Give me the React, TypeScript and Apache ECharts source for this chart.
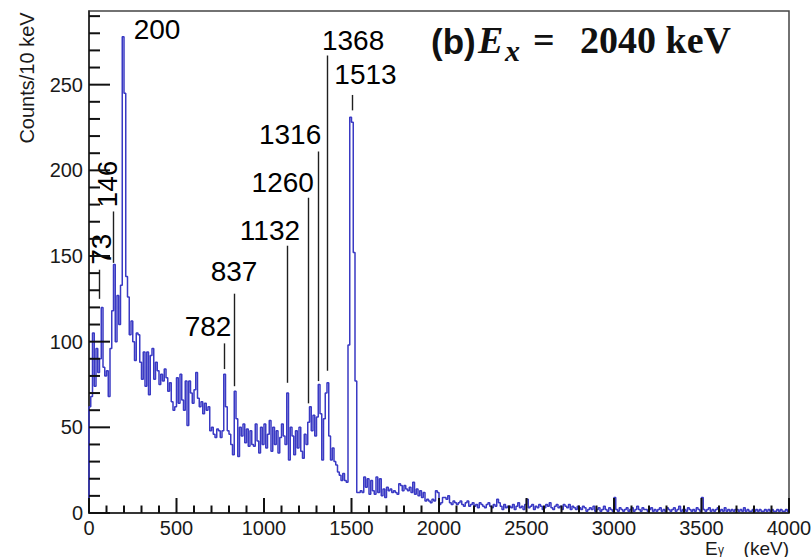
import React, { useEffect, useRef } from "react";
import * as echarts from "echarts";

// Histogram: counts per 10 keV bin, bins start at 0 keV
const BIN_WIDTH = 10;
const counts: number[] = [
  62, 68, 105, 74, 96, 82, 90, 120, 85, 80,
  83, 68, 96, 118, 145, 100, 127, 110, 133, 278,
  245, 138, 126, 104, 112, 100, 89, 105, 104, 88,
  78, 94, 74, 94, 69, 92, 96, 78, 88, 83,
  75, 81, 77, 84, 79, 71, 76, 65, 60, 62,
  79, 64, 81, 66, 60, 77, 51, 77, 70, 64,
  72, 82, 67, 62, 65, 58, 64, 60, 62, 48,
  50, 46, 44, 49, 48, 44, 48, 81, 62, 48,
  46, 40, 34, 71, 55, 33, 50, 45, 52, 41,
  49, 39, 48, 40, 39, 52, 42, 35, 50, 40,
  52, 38, 46, 54, 36, 50, 40, 48, 35, 44,
  52, 45, 40, 70, 31, 50, 45, 34, 48, 38,
  50, 36, 32, 46, 40, 53, 62, 48, 57, 45,
  56, 75, 58, 31, 55, 70, 76, 45, 31, 38,
  30, 28, 24, 22, 19, 23, 19, 18, 98, 231,
  228, 152, 77, 12, 12, 13, 12, 21, 15, 20,
  11, 19, 13, 11, 21, 12, 20, 10, 14, 9,
  15, 13, 14, 12, 13, 12, 11, 17, 16, 13,
  16, 14, 13, 15, 12, 18, 11, 14, 10, 13,
  9, 12, 7, 8, 7, 6, 8, 7, 13, 12,
  5, 6, 9, 9, 8, 10, 6, 5, 7, 6,
  5, 6, 7, 5, 4, 6, 7, 4, 5, 6,
  4, 5, 3, 6, 5, 4, 3, 5, 6, 4,
  3, 5, 4, 8, 6, 4, 2, 5, 3, 4,
  4, 3, 5, 2, 4, 6, 3, 4, 2, 5,
  8, 3, 4, 5, 2, 4, 3, 5, 4, 2,
  3, 5, 4, 6, 3, 2, 4, 5, 3, 4,
  2, 5, 4, 3, 5, 2, 4, 3, 2, 4,
  3, 2, 4, 3, 1, 2, 3, 2, 4, 1,
  2, 3, 1, 2, 4, 2, 1, 3, 2, 1,
  9, 2, 1, 3, 2, 1, 2, 3, 1, 2,
  3, 1, 2, 4, 2, 1, 3, 2, 2, 1,
  2, 3, 1, 2, 1, 2, 3, 1, 2, 1,
  3, 2, 1, 2, 3, 1, 2, 4, 1, 2,
  2, 1, 3, 2, 1, 2, 1, 3, 2, 1,
  9, 2, 1, 2, 3, 1, 2, 1, 2, 3,
  1, 2, 1, 3, 1, 2, 1, 2, 1, 2,
  2, 1, 2, 1, 3, 1, 2, 1, 1, 2,
  1, 2, 1, 2, 1, 1, 2, 1, 2, 1,
  2, 1, 1, 2, 1, 2, 1, 1, 2, 1,
];

const X_MIN = 0;
const X_MAX = 4000;
const X_MAJOR = 500;
const X_MINOR = 100;
const Y_MAX = 293;
const Y_MAJOR = 50;
const Y_MINOR = 10;

// Peak annotations (energy labels, keV)
const peakLabels = ["73", "146", "200", "782", "837", "1132", "1260", "1316", "1368", "1513"];
// label anchor in data coords [keV, counts] and rotation
const labelAnchors: [number, number][] = [
  [72, 154], [107, 192], [389, 282], [680, 109], [829, 141],
  [1034, 165], [1107, 193], [1149, 221], [1509, 276], [1580, 256],
];
const labelRotation = [90, 90, 0, 0, 0, 0, 0, 0, 0, 0];
// pointer lines: [keV, top counts, bottom counts]
const pointerLines: [number, number, number][] = [
  [57, 142, 125],
  [137, 176, 146],
  [774, 99, 84],
  [831, 128, 74],
  [1131, 156, 76],
  [1254, 184, 64],
  [1311, 211, 77],
  [1360, 267, 83],
  [1503, 244, 235],
];

// layout
const GRID = { left: 89, top: 11, right: 22, bottom: 44 };
const W = 811;
const H = 557;

export default function App() {
  const ref = useRef<HTMLDivElement>(null);
  useEffect(() => {
    if (!ref.current) return;
    const chart = echarts.init(ref.current, null, { renderer: "svg" });
    const hist: [number, number][] = [[X_MIN, 0]];
    counts.forEach((c, i) => hist.push([i * BIN_WIDTH, c]));
    hist.push([counts.length * BIN_WIDTH, counts[counts.length - 1]]);

    const pointerSegs = pointerLines.map(([x, y1, y2]) => [{ coord: [x, y1] }, { coord: [x, y2] }]);

    const axisColor = "#222";
    const font = "Liberation Sans";
    chart.setOption({
      animation: false,
      backgroundColor: "#ffffff",
      grid: {
        ...GRID,
        outerBoundsMode: "none",
        containLabel: false,
        show: true, borderColor: "#444", borderWidth: 1.5, backgroundColor: "transparent",
      },
      xAxis: {
        type: "value", min: X_MIN, max: X_MAX, interval: X_MAJOR,
        axisLine: { show: true, lineStyle: { color: axisColor, width: 1.5 } },
        axisTick: { show: false },
        splitLine: { show: false },
        axisLabel: {
          fontSize: 20, lineHeight: 18, color: "#1a1a1a", fontFamily: font, margin: 6,
          formatter: (v: number) => String(v),
        },
      },
      yAxis: {
        type: "value", min: 0, max: Y_MAX, interval: Y_MAJOR,
        axisLine: { show: true, lineStyle: { color: axisColor, width: 1.5 } },
        axisTick: { show: false },
        splitLine: { show: false },
        axisLabel: {
          fontSize: 20, color: "#1a1a1a", fontFamily: font, margin: 6,
          formatter: (v: number) => (v % Y_MAJOR === 0 ? String(v) : ""),
        },
      },
      series: [
        {
          type: "line",
          data: hist,
          step: "end",
          symbol: "none",
          showSymbol: false,
          z: 3,
          lineStyle: { color: "#3a3ac4", width: 1.5 },
          markLine: {
            silent: true,
            symbol: ["none", "none"],
            label: { show: false },
            lineStyle: { color: "#1f1f1f", width: 1.4, type: "solid" },
            data: pointerSegs,
          },
        },
        {
          type: "scatter",
          symbolSize: 0,
          silent: true,
          itemStyle: { opacity: 1 },
          data: peakLabels.map((t, i) => ({
            name: t,
            value: labelAnchors[i],
            label: { rotate: labelRotation[i] },
          })),
          label: {
            show: true,
            position: "inside",
            formatter: (p: any) => p.name,
            fontSize: 28,
            fontFamily: font,
            color: "#000",
            opacity: 1,
          },
        },
      ],
    });

    // inward ROOT-style tick marks, placed through the axes' own scales
    const tickEls: any[] = [];
    for (let v = X_MIN; v <= X_MAX; v += X_MINOR) {
      const p = chart.convertToPixel({ gridIndex: 0 }, [v, 0]) as number[];
      const len = v % X_MAJOR === 0 ? 15 : 7.5;
      tickEls.push({
        type: "rect", z: 60, silent: true,
        shape: { x: p[0] - 1, y: p[1] - len, width: 2, height: len },
        style: { fill: "#111" },
      });
    }
    for (let v = 0; v <= Y_MAX; v += Y_MINOR) {
      const p = chart.convertToPixel({ gridIndex: 0 }, [X_MIN, v]) as number[];
      const len = v % Y_MAJOR === 0 ? 21 : 11;
      tickEls.push({
        type: "rect", z: 60, silent: true,
        shape: { x: p[0], y: p[1] - 1, width: len, height: 2 },
        style: { fill: "#111" },
      });
    }

    const texts: any[] = [
      {
        type: "text", x: 27, y: 78, rotation: Math.PI / 2,
        style: { text: "Counts/10 keV", fontSize: 20, fontFamily: font, fill: "#1a1a1a", align: "center", verticalAlign: "middle" },
      },
      {
        type: "text", x: 705, y: 548,
        style: { text: "E", fontSize: 19, lineHeight: 16, fontFamily: font, fill: "#1a1a1a", align: "left", verticalAlign: "middle" },
      },
      {
        type: "text", x: 718, y: 550,
        style: { text: "γ", fontSize: 12, lineHeight: 11, fontFamily: font, fill: "#1a1a1a", align: "left", verticalAlign: "middle" },
      },
      {
        type: "text", x: 789, y: 548,
        style: { text: "(keV)", fontSize: 19, lineHeight: 16, fontFamily: font, fill: "#1a1a1a", align: "right", verticalAlign: "middle" },
      },
      {
        type: "text", x: 431, y: 41,
        style: { text: "(b)", fontSize: 35, fontWeight: "bold", fontFamily: font, fill: "#111", align: "left", verticalAlign: "middle" },
      },
      {
        type: "text", x: 478, y: 40,
        style: { text: "E", fontSize: 38, fontWeight: "bold", fontStyle: "italic", fontFamily: "Liberation Serif", fill: "#111", align: "left", verticalAlign: "middle" },
      },
      {
        type: "text", x: 505, y: 50,
        style: { text: "x", fontSize: 30, fontWeight: "bold", fontStyle: "italic", fontFamily: "Liberation Serif", fill: "#111", align: "left", verticalAlign: "middle" },
      },
      {
        type: "text", x: 533, y: 40,
        style: { text: "=", fontSize: 38, fontWeight: "bold", fontFamily: "Liberation Serif", fill: "#111", align: "left", verticalAlign: "middle" },
      },
      {
        type: "text", x: 580, y: 40,
        style: { text: "2040 keV", fontSize: 38, fontWeight: "bold", fontFamily: "Liberation Serif", fill: "#111", align: "left", verticalAlign: "middle" },
      },
    ];
    chart.setOption({ graphic: [...texts, ...tickEls] });
    return () => chart.dispose();
  }, []);
  return (
    <div
      ref={ref}
      style={{ position: "absolute", left: 0, top: 0, width: W, height: H, background: "#fff" }}
    />
  );
}
